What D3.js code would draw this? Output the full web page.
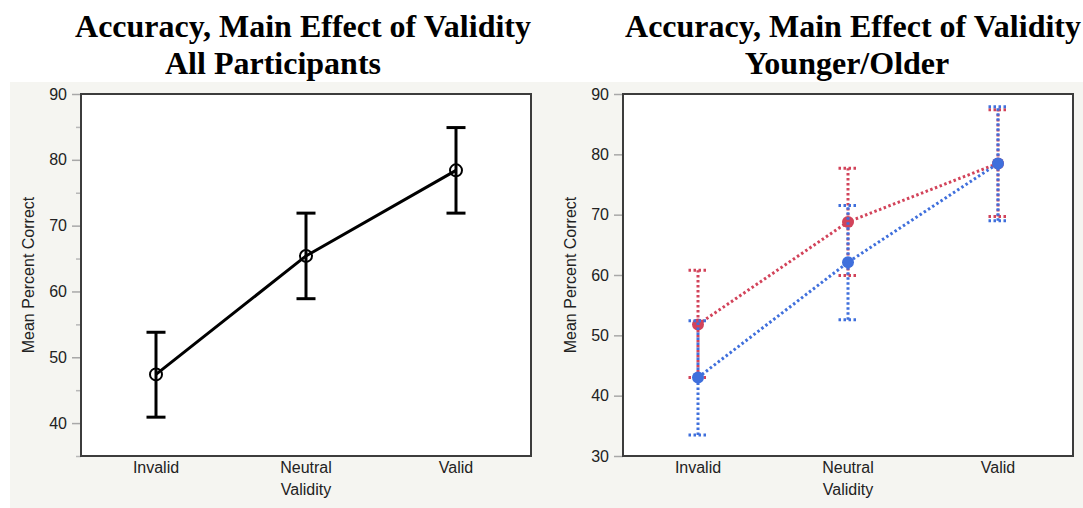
<!DOCTYPE html>
<html>
<head>
<meta charset="utf-8">
<script src="https://cdn.jsdelivr.net/npm/d3@7"></script>
<style>
  html, body { margin: 0; padding: 0; background: #ffffff; }
  svg { display: block; }
</style>
</head>
<body>
<svg id="chart" width="1083" height="508"></svg>
<script>
// Validity conditions on the x axis
const categories = ["Invalid", "Neutral", "Valid"];

// All participants: mean percent correct with error-bar limits
const allMean  = [47.4, 65.4, 78.4];
const allLower = [40.9, 58.9, 71.9];
const allUpper = [53.8, 71.9, 84.9];

// Younger group (red)
const youngerMean  = [51.8, 68.8, 78.5];
const youngerLower = [43.0, 59.9, 69.7];
const youngerUpper = [60.8, 77.7, 87.4];

// Older group (blue)
const olderMean  = [43.0, 62.1, 78.5];
const olderLower = [33.5, 52.6, 69.0];
const olderUpper = [52.4, 71.5, 87.9];

// Axis ticks
const leftMajorTicks  = [40, 50, 60, 70, 80, 90];
const leftMinorTicks  = [35, 45, 55, 65, 75, 85];
const rightMajorTicks = [30, 40, 50, 60, 70, 80, 90];

const yLabel = "Mean Percent Correct";
const xLabel = "Validity";

const svg = d3.select("#chart");

// panel backdrop
svg.append("rect")
  .attr("x", 10).attr("y", 82)
  .attr("width", 1073).attr("height", 426)
  .attr("fill", "#f5f5f1");

// titles
const titleFont = "'Liberation Serif', 'Times New Roman', serif";
function title(text, x, y) {
  svg.append("text")
    .attr("x", x).attr("y", y)
    .attr("text-anchor", "middle")
    .attr("font-family", titleFont)
    .attr("font-weight", "bold")
    .attr("font-size", 32)
    .attr("fill", "#000")
    .text(text);
}
title("Accuracy, Main Effect of Validity", 303, 37);
title("All Participants", 273, 74);
title("Accuracy, Main Effect of Validity", 853, 37);
title("Younger/Older", 847, 74);

const sans = "'Liberation Sans', Arial, Helvetica, sans-serif";
const labelSize = 16;

function panel(opts) {
  const g = svg.append("g");
  const x = d3.scaleBand().domain(categories)
    .range([opts.left, opts.right]).padding(0);
  const y = d3.scaleLinear().domain(opts.domain)
    .range([opts.bottom, opts.top]);
  const cx = d => x(d) + x.bandwidth() / 2;

  // plot area
  g.append("rect")
    .attr("x", opts.left).attr("y", opts.top)
    .attr("width", opts.right - opts.left)
    .attr("height", opts.bottom - opts.top)
    .attr("fill", "#ffffff");

  // y axis: major ticks with labels, minor ticks without
  const yAxis = d3.axisLeft(y).tickValues(opts.major).tickSize(9).tickPadding(5).tickFormat(d3.format("d"));
  const ya = g.append("g").attr("transform", `translate(${opts.left},0)`).call(yAxis);
  ya.select(".domain").remove();
  ya.selectAll(".tick line").attr("stroke", "#a8a8a8").attr("stroke-width", 1.5);
  ya.selectAll(".tick text").attr("font-family", sans).attr("font-size", labelSize).attr("fill", "#222");

  if (opts.minor.length) {
    const ym = g.append("g").attr("transform", `translate(${opts.left},0)`)
      .call(d3.axisLeft(y).tickValues(opts.minor).tickSize(5).tickFormat(""));
    ym.select(".domain").remove();
    ym.selectAll(".tick line").attr("stroke", "#b8b8b8").attr("stroke-width", 1.5);
  }

  // x axis labels
  const xAxis = d3.axisBottom(x).tickSize(0).tickPadding(6);
  const xa = g.append("g").attr("transform", `translate(0,${opts.bottom})`).call(xAxis);
  xa.select(".domain").remove();
  xa.selectAll(".tick text").attr("font-family", sans).attr("font-size", labelSize).attr("fill", "#222");

  // axis titles
  g.append("text")
    .attr("x", (opts.left + opts.right) / 2).attr("y", opts.bottom + 39)
    .attr("text-anchor", "middle")
    .attr("font-family", sans).attr("font-size", labelSize).attr("fill", "#222")
    .text(xLabel);
  g.append("text")
    .attr("transform", `translate(${opts.yTitleX},${(opts.top + opts.bottom) / 2}) rotate(-90)`)
    .attr("text-anchor", "middle")
    .attr("dominant-baseline", "middle")
    .attr("font-family", sans).attr("font-size", labelSize).attr("fill", "#222")
    .text(yLabel);

  // series
  opts.series.forEach(s => {
    const sg = g.append("g");
    const dash = s.dash || null;
    const pts = categories.map((c, i) => ({ c, m: s.mean[i], lo: s.lower[i], hi: s.upper[i] }));

    sg.append("path")
      .datum(pts)
      .attr("fill", "none")
      .attr("stroke", s.color)
      .attr("stroke-width", s.width)
      .attr("stroke-dasharray", dash)
      .attr("d", d3.line().x(d => cx(d.c)).y(d => y(d.m)));

    const eb = sg.selectAll("g.eb").data(pts).join("g").attr("class", "eb");
    eb.append("line")
      .attr("x1", d => cx(d.c)).attr("x2", d => cx(d.c))
      .attr("y1", d => y(d.lo)).attr("y2", d => y(d.hi))
      .attr("stroke", s.color).attr("stroke-width", s.width)
      .attr("stroke-dasharray", dash);
    ["lo", "hi"].forEach(k => {
      eb.append("line")
        .attr("x1", d => cx(d.c) - s.cap / 2).attr("x2", d => cx(d.c) + s.cap / 2)
        .attr("y1", d => y(d[k])).attr("y2", d => y(d[k]))
        .attr("stroke", s.color).attr("stroke-width", s.width)
        .attr("stroke-dasharray", dash);
    });

    sg.selectAll("circle").data(pts).join("circle")
      .attr("cx", d => cx(d.c)).attr("cy", d => y(d.m))
      .attr("r", s.r)
      .attr("fill", s.hollow ? "none" : s.color)
      .attr("stroke", s.hollow ? s.color : "none")
      .attr("stroke-width", s.hollow ? 2 : 0);
  });

  // frame
  g.append("rect")
    .attr("x", opts.left).attr("y", opts.top)
    .attr("width", opts.right - opts.left)
    .attr("height", opts.bottom - opts.top)
    .attr("fill", "none")
    .attr("stroke", "#3c3c3c")
    .attr("stroke-width", 2);
}

panel({
  left: 81, right: 531, top: 94, bottom: 456,
  domain: [35, 90],
  major: leftMajorTicks, minor: leftMinorTicks,
  yTitleX: 30,
  series: [
    { mean: allMean, lower: allLower, upper: allUpper, color: "#000000", width: 3, cap: 19, r: 6, hollow: true }
  ]
});

panel({
  left: 623, right: 1073, top: 94, bottom: 456,
  domain: [30, 90],
  major: rightMajorTicks, minor: [],
  yTitleX: 572,
  series: [
    { mean: youngerMean, lower: youngerLower, upper: youngerUpper, color: "#d2435a", width: 3, cap: 19, r: 6, dash: "2.5,2.5" },
    { mean: olderMean, lower: olderLower, upper: olderUpper, color: "#3f6fdc", width: 3, cap: 19, r: 6, dash: "2.5,2.5" }
  ]
});
</script>
</body>
</html>
